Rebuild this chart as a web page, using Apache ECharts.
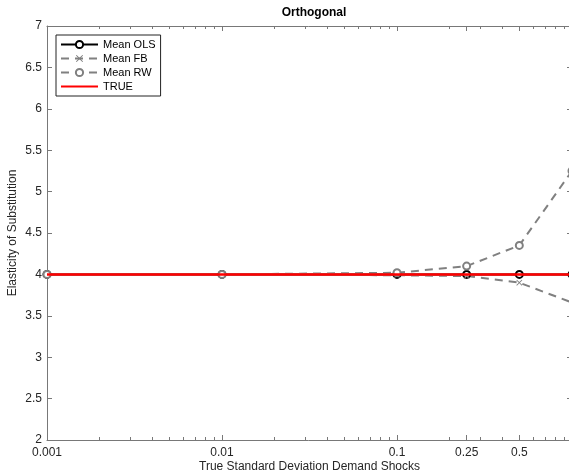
<!DOCTYPE html>
<html>
<head>
<meta charset="utf-8">
<script src="https://cdn.jsdelivr.net/npm/echarts@6/dist/echarts.min.js"></script>
<style>
html, body { margin: 0; padding: 0; background: #fff; }
#main { width: 569px; height: 475px; }
</style>
</head>
<body>
<div id="main"></div>
<script>
// x values (true std. dev. of demand shocks)
var xVals = [0.001, 0.01, 0.1, 0.25, 0.5, 1];
var meanOLS = [4, 4, 4, 4, 4, 4];
var meanFB = [4, 4, 3.99, 3.98, 3.9, 3.66];
var meanRW = [4, 4, 4.02, 4.1, 4.35, 5.25];
var trueVal = [4, 4, 4, 4, 4, 4];

var xMajor = [0.001, 0.01, 0.1, 0.25, 0.5, 1];
var xMinor = [0.002, 0.003, 0.004, 0.005, 0.006, 0.007, 0.008, 0.009,
	0.02, 0.03, 0.04, 0.05, 0.06, 0.07, 0.08, 0.09,
	0.2, 0.3, 0.4, 0.6, 0.7, 0.8, 0.9];

var axisGray = '#787878';
var textGray = '#262626';
var fontFam = 'Liberation Sans, Arial, sans-serif';

function pairs(ys) {
	var out = [];
	for(var i = 0; i < xVals.length; i++) {
		out.push([xVals[i], ys[i]]);
	}
	return out;
}

function tickAxis(pos, values, len, show) {
	return {
		type: 'log',
		logBase: 10,
		min: 0.001,
		max: 1,
		position: pos,
		axisLine: { show: show, lineStyle: { color: axisGray, width: 1 } },
		axisTick: { show: true, inside: true, length: len, customValues: values, lineStyle: { color: axisGray } },
		axisLabel: { show: false },
		splitLine: { show: false }
	};
}

var xMain = tickAxis('bottom', xMajor, 5, true);
xMain.axisLabel = {
	show: true,
	customValues: xMajor,
	margin: 7,
	color: textGray,
	fontSize: 12,
	fontFamily: fontFam,
	formatter: function(v) { return String(+v.toPrecision(6)); }
};
xMain.name = 'True Standard Deviation Demand Shocks';
xMain.nameLocation = 'middle';
xMain.nameGap = 21;
xMain.nameMoveOverlap = false;
xMain.nameTextStyle = { color: textGray, fontSize: 12, fontFamily: fontFam };

var chart = echarts.init(document.getElementById('main'));
chart.setOption({
	animation: false,
	backgroundColor: '#fff',
	title: {
		text: 'Orthogonal',
		left: 309,
		top: 2,
		textAlign: 'center',
		textStyle: { color: '#000', fontSize: 12, fontWeight: 'bold', fontFamily: fontFam }
	},
	grid: { left: 47, top: 26, width: 525, bottom: 35, containLabel: false, outerBoundsMode: 'none' },
	legend: {
		orient: 'vertical',
		left: 56,
		top: 35,
		padding: [4, 5, 4, 4],
		itemWidth: 37,
		itemHeight: 9,
		itemGap: 3,
		borderColor: '#222',
		borderWidth: 1,
		backgroundColor: '#fff',
		textStyle: { color: '#000', fontSize: 11, fontFamily: fontFam },
		data: ['Mean OLS', 'Mean FB', 'Mean RW', 'TRUE']
	},
	xAxis: [
		xMain,
		tickAxis('bottom', xMinor, 3, false),
		tickAxis('top', xMajor, 5, true),
		tickAxis('top', xMinor, 3, false)
	],
	yAxis: [{
		type: 'value',
		min: 2,
		max: 7,
		interval: 0.5,
		axisLine: { show: true, lineStyle: { color: axisGray, width: 1 } },
		axisTick: { show: true, inside: true, length: 5, lineStyle: { color: axisGray } },
		axisLabel: { margin: 5, color: textGray, fontSize: 12, fontFamily: fontFam },
		splitLine: { show: false },
		name: 'Elasticity of Substitution',
		nameLocation: 'middle',
		nameGap: 28,
		nameMoveOverlap: false,
		nameTextStyle: { color: textGray, fontSize: 12, fontFamily: fontFam }
	}, {
		type: 'value',
		min: 2,
		max: 7,
		interval: 0.5,
		position: 'right',
		axisLine: { show: true, lineStyle: { color: axisGray } },
		axisTick: { show: true, inside: true, length: 5, lineStyle: { color: axisGray } },
		axisLabel: { show: false },
		splitLine: { show: false }
	}],
	series: [{
		name: 'Mean OLS',
		type: 'line',
		data: pairs(meanOLS),
		symbol: 'emptyCircle',
		symbolSize: 7,
		lineStyle: { color: '#000', width: 2 },
		itemStyle: { color: '#000', borderWidth: 2 }
	}, {
		name: 'Mean FB',
		type: 'line',
		data: pairs(meanFB),
		symbol: 'path://M0,1L1,0L5,4L9,0L10,1L6,5L10,9L9,10L5,6L1,10L0,9L4,5Z',
		symbolSize: 6,
		lineStyle: { color: '#808080', width: 2, type: [8, 6] },
		itemStyle: { color: '#808080' }
	}, {
		name: 'Mean RW',
		type: 'line',
		data: pairs(meanRW),
		symbol: 'emptyCircle',
		symbolSize: 7,
		lineStyle: { color: '#808080', width: 2, type: [8, 6] },
		itemStyle: { color: '#808080', borderWidth: 2 }
	}, {
		name: 'TRUE',
		type: 'line',
		z: 5,
		data: pairs(trueVal),
		symbol: 'circle',
		showSymbol: false,
		lineStyle: { color: '#ff0000', width: 2.5 },
		itemStyle: { color: 'rgba(0,0,0,0)' }
	}]
});
</script>
</body>
</html>
